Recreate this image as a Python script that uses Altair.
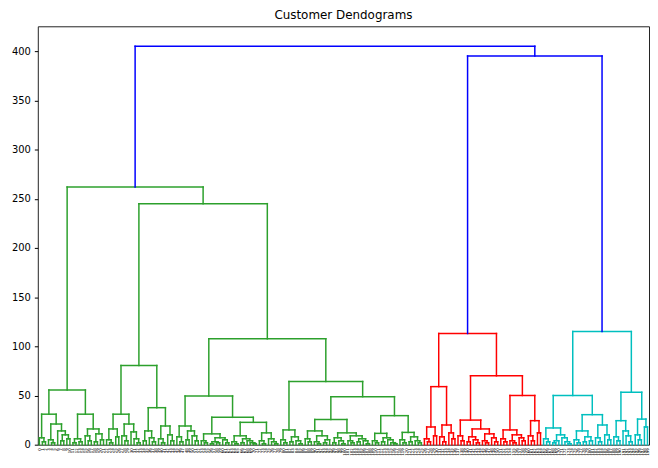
import altair as alt
import pandas as pd

TITLE = "Customer Dendograms"
Y_TICKS = [0, 50, 100, 150, 200, 250, 300, 350, 400]
Y_MAX = 425.3
COLOR_THRESHOLD = 283.5
COLOR_NAMES = ["above", "c1", "c2", "c3"]
COLOR_VALUES = ["#0000ff", "#2ca02c", "#ff0000", "#00bfbf"]

# tree nodes: (merge height, left, right); a leaf is 0
# ---- green cluster, left part
green_a_left = (31, (7, 0, (3, 0, 0)), (21, (5, 0, (2, 0, 0)), (14, 0, (10, (4, 0, 0), (6, 0, 0)))))
green_a_right = (31, (6, (2, 0, 0), (3, 0, 0)), (16, (9, 0, (4, 0, 0)), (11, (3, 0, 0), (5, 0, 0))))
green_a = (55.6, green_a_left, green_a_right)
# ---- green cluster, middle part
green_b_left = (31, (16, (5, 0, (2, 0, 0)), (8, 0, 0)), (21, (9, 0, (4, 0, 0)), (13, 0, (6, 0, (2, 0, 0)))))
green_b_right = (37.6, (14, (4, 0, 0), (7, 0, (3, 0, 0))), (19, (6, 0, (2, 0, 0)), (10, 0, (4, 0, 0))))
green_b = (80.4, green_b_left, green_b_right)
# ---- green cluster, right part
green_e1 = (19, (8, 0, (3, 0, 0)), (14, (5, 0, 0), (9, 0, (4, 0, 0))))
green_e2a = (11, (4, 0, (2, 0, 0)), (7, (3, (1, 0, 0), (2, 0, 0)), (5, 0, (2, 0, 0))))
green_e2b_left = (9, (3, 0, (1, 0, 0)), (6, (2, 0, 0), (4, 0, (2, 0, (1, 0, 0)))))
green_e2b_right = (12, (4, 0, (1, 0, 0)), (6, 0, (3, 0, (1, 0, 0))))
green_e2 = (27.8, green_e2a, (22.7, green_e2b_left, green_e2b_right))
green_c_left = (49.5, green_e1, green_e2)
green_f1 = (15, (5, 0, (2, 0, 0)), (8, (3, 0, 0), (4, 0, (1, 0, 0))))
green_g1 = (14, (6, 0, (3, 0, 0)), (9, (3, 0, (1, 0, 0)), (5, (2, 0, 0), 0)))
green_g2 = (12, (7, (2, 0, 0), (4, 0, (1, 0, 0))), (9, (4, 0, (2, 0, 0)), (6, (3, 0, 0), (4, 0, (1, 0, 0)))))
green_h1 = (11.5, (4, 0, (2, 0, 0)), (7, (3, 0, 0), (5, 0, (2, 0, (1, 0, 0)))))
green_h2 = (12.5, (5, 0, (2, 0, 0)), (8, (3, 0, 0), (4, 0, (2, 0, 0))))
green_c_right = (64.2, green_f1, (48.8, (25.5, green_g1, green_g2), (29.5, green_h1, green_h2)))
green_c = (107.6, green_c_left, green_c_right)
green = (262, green_a, (245, green_b, green_c))
# ---- red cluster
red_r1 = (18, (6, 0, (3, 0, 0)), (9, 0, 0))
red_r2 = (20, (8, 0, (3, 0, 0)), (12, 0, (6, 0, 0)))
red_s1 = (9, 0, (4, 0, 0))
red_s2 = (16, (8, (3, 0, 0), (5, 0, (2, 0, 0))), (11, (4, 0, (2, 0, 0)), (7, 0, (3, 0, 0))))
red_t1 = (15, (6, 0, (3, 0, 0)), (10, (4, 0, (2, 0, 0)), (7, 0, (4, 0, 0))))
red_t2 = (24.4, (9, 0, (4, 0, 0)), (12, 0, 0))
red = (113, (59, red_r1, red_r2), (70, (25, red_s1, red_s2), (50, red_t1, red_t2)))
# ---- cyan cluster
cyan_u1 = (17, (6, 0, (3, 0, 0)), (10, (4, (2, 0, 0), 0), (7, 0, (3, 0, (1, 0, 0)))))
cyan_v1 = (14, (5, 0, (2, 0, 0)), (8, (3, 0, 0), (4, 0, 0)))
cyan_v2 = (20, (7, 0, (3, 0, 0)), (10, 0, (5, 0, 0)))
cyan_w1 = (24.4, (8, 0, (4, 0, 0)), (14, 0, (9, 0, (3, 0, 0))))
cyan_w2 = (26, (10, 0, (5, 0, 0)), (18, 0, 0))
cyan = (115, (50, cyan_u1, (30.5, cyan_v1, cyan_v2)), (53.3, cyan_w1, cyan_w2))
# ---- top links
ROOT = (405, green, (395, red, cyan))

segments = []
leaf_x = []
palette_next = [1]


def layout(node, color):
    if node == 0:
        x = 5 + 10 * len(leaf_x)
        leaf_x.append(x)
        return x, 0.0
    h, a, b = node
    if h > COLOR_THRESHOLD:
        col = COLOR_NAMES[0]
    elif color is None:
        col = COLOR_NAMES[palette_next[0]]
        palette_next[0] += 1
    else:
        col = color
    child_col = None if col == COLOR_NAMES[0] else col
    xa, ha = layout(a, child_col)
    xb, hb = layout(b, child_col)
    segments.append(dict(x=xa, x2=xa, y=ha, y2=h, c=col))
    segments.append(dict(x=xa, x2=xb, y=h, y2=h, c=col))
    segments.append(dict(x=xb, x2=xb, y=hb, y2=h, c=col))
    return (xa + xb) / 2, h


layout(ROOT, None)
n_leaves = len(leaf_x)
leaf_labels = [str(i) for i in range(n_leaves)]
label_expr = "[" + ",".join("'" + s + "'" for s in leaf_labels) + "][floor(datum.value / 10)]"

df = pd.DataFrame(segments)

chart = alt.Chart(df).mark_rule(strokeWidth=1.5, strokeCap="square").encode(
    x=alt.X("x:Q", scale=alt.Scale(domain=[0, 10 * n_leaves], nice=False, zero=False),
            axis=alt.Axis(values=leaf_x, labelExpr=label_expr, labelAngle=270,
                          labelAlign="right", labelBaseline="middle",
                          labelFontSize=4, labelFont="DejaVu Sans", labelColor="black",
                          labelOverlap=False, labelFlush=False, labelPadding=3,
                          ticks=False, domain=False, grid=False, title=None)),
    x2="x2:Q",
    y=alt.Y("y:Q", scale=alt.Scale(domain=[0, Y_MAX], nice=False, zero=True),
            axis=alt.Axis(values=Y_TICKS, grid=False, domain=False, tickSize=3.5,
                          tickColor="black", labelColor="black", labelFontSize=10,
                          labelFont="DejaVu Sans", labelPadding=4, title=None)),
    y2="y2:Q",
    color=alt.Color("c:N", scale=alt.Scale(domain=COLOR_NAMES, range=COLOR_VALUES), legend=None),
).properties(
    width=615, height=421,
    padding={"left": 3, "top": 0, "right": 0, "bottom": 0},
    title=alt.TitleParams(TITLE, fontSize=12, font="DejaVu Sans", fontWeight="normal",
                          color="black", offset=4),
).configure_view(stroke="#222222", strokeWidth=1)

chart.save("out.html", embed_options={"renderer": "svg", "actions": False})
